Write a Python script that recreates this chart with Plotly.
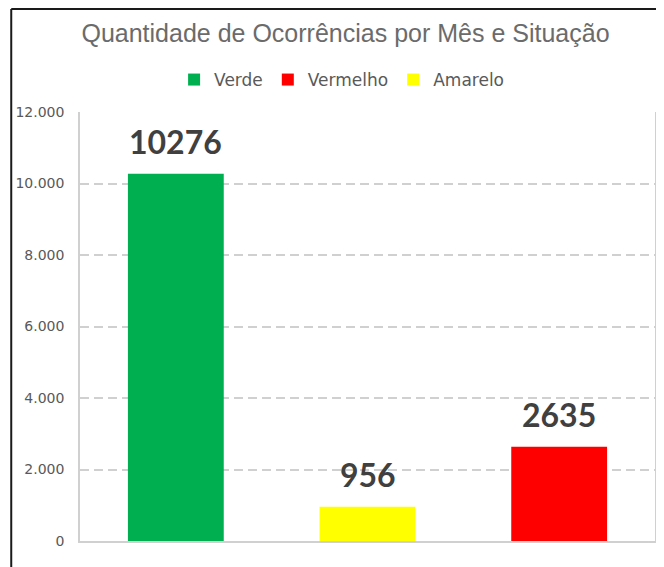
import plotly.graph_objects as go

# Data
series_names = ["Verde", "Vermelho", "Amarelo"]          # legend order
series_values = [10276, 2635, 956]
series_colors = ["#00B050", "#FF0000", "#FFFF00"]
category_order = ["Verde", "Amarelo", "Vermelho"]         # order of bars on the axis
y_ticks = [0, 2000, 4000, 6000, 8000, 10000, 12000]

# page body has an 8px margin; the figure is sized so that it ends at the window edge
OFF = 8
W, H = 664 - OFF, 567 - OFF
ML, MT = 80 - OFF, 112 - OFF
MR = W - (657 - OFF)
MB = H - (541 - OFF)
PW, PH = W - ML - MR, H - MT - MB

def px_x(p):  # window px -> paper x
    return (p - OFF - ML) / PW

def px_y(p):  # window px -> paper y
    return (H - MB - (p - OFF)) / PH

fig = go.Figure()
for name, val, col in zip(series_names, series_values, series_colors):
    fig.add_trace(go.Bar(
        name=name, x=[name], y=[val],
        marker=dict(color=col, line=dict(width=0)),
        width=0.5, hoverinfo="x+y",
    ))
    fig.add_annotation(
        x=name, y=val, text=str(val), showarrow=False,
        yanchor="bottom", yshift=11,
        font=dict(family="Lato", size=32, color="#404040", weight="bold"),
    )

# outer black frame (top and left edges visible)
fig.add_shape(type="line", xref="paper", yref="paper",
              x0=px_x(11), x1=px_x(670), y0=px_y(9), y1=px_y(9),
              line=dict(color="#1a1a1a", width=2))
fig.add_shape(type="line", xref="paper", yref="paper",
              x0=px_x(11), x1=px_x(11), y0=px_y(9), y1=px_y(570),
              line=dict(color="#1a1a1a", width=2))

fig.update_layout(
    width=W, height=H,
    margin=dict(l=ML, r=MR, t=MT, b=MB, pad=0),
    paper_bgcolor="white", plot_bgcolor="white",
    barmode="overlay",
    separators=",.",
    title=dict(
        text="Quantidade de Ocorrências por Mês e Situação",
        xref="container", yref="container",
        x=(345.5 - OFF) / W, y=1 - (33 - OFF) / H, xanchor="center", yanchor="middle",
        font=dict(family="Liberation Sans", size=25, color="#6b6b6b"),
    ),
    legend=dict(
        orientation="h", xref="paper", yref="paper",
        x=px_x(342.5), y=px_y(80), xanchor="center", yanchor="middle",
        font=dict(family="DejaVu Sans", size=17, color="#595959"),
        traceorder="normal", itemclick=False,
    ),
    xaxis=dict(
        categoryorder="array", categoryarray=category_order,
        showticklabels=False, ticks="", showgrid=False,
        showline=True, linecolor="#d0d0d0", linewidth=1.5,
        zeroline=False, fixedrange=True,
    ),
    yaxis=dict(
        range=[0, 12000], tickvals=y_ticks, tickformat=",.0f",
        showgrid=True, gridcolor="#d0d0d0", gridwidth=1.5, griddash="9px,5px",
        showline=True, mirror=True, linecolor="#d0d0d0", linewidth=1.5,
        zeroline=False, ticks="", ticklabelstandoff=11,
        tickfont=dict(family="DejaVu Sans", size=14, color="#595959"),
        fixedrange=True,
    ),
    showlegend=True,
)

fig.write_html("out.html")
